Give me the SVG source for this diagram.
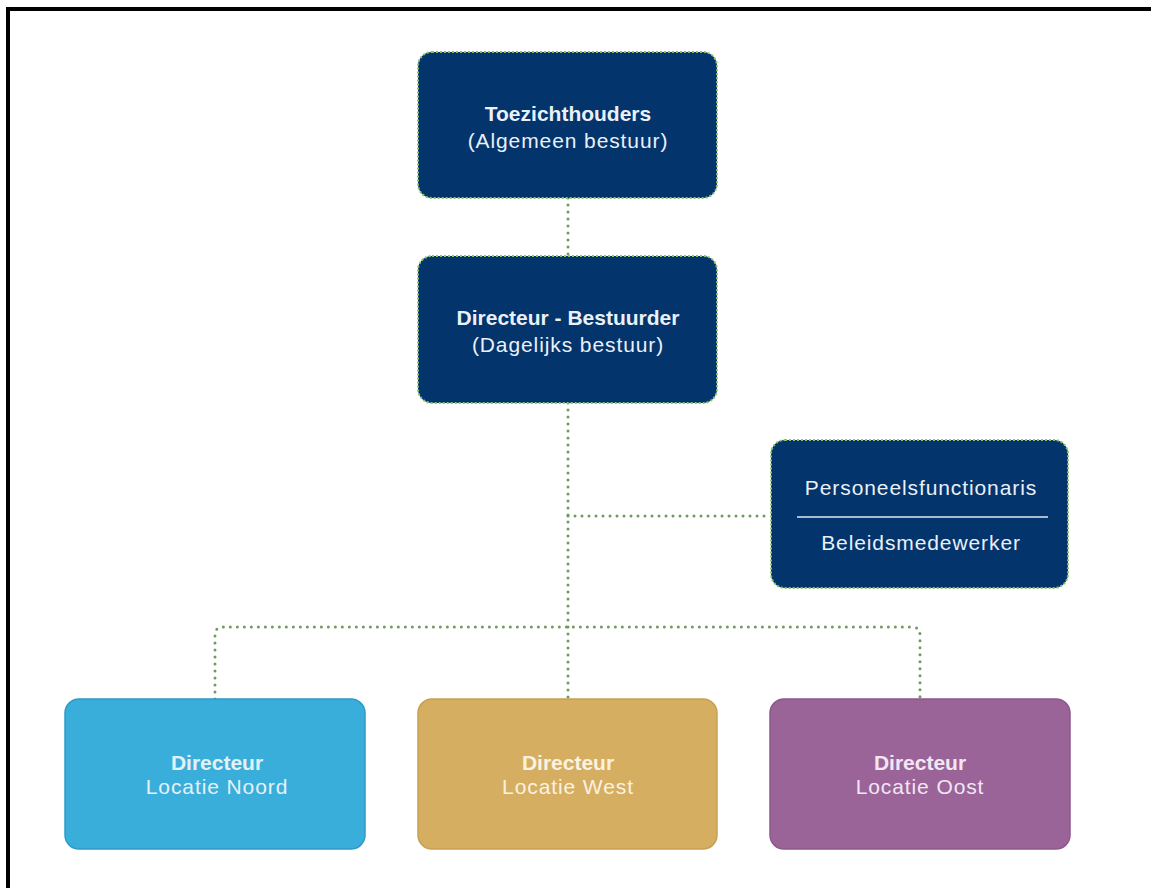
<svg xmlns="http://www.w3.org/2000/svg" width="1151" height="888" viewBox="0 0 1151 888">
<style>
.navy{fill:#03346b;stroke:#8cc26a;stroke-width:2;stroke-dasharray:2 2}
.conn{fill:none;stroke:#6f9c5e;stroke-width:3;stroke-linecap:round;stroke-dasharray:0 7}
.t{font-family:"Liberation Sans",Arial,sans-serif;font-size:21px;text-anchor:middle}
.b{font-weight:bold}
.r{letter-spacing:0.9px}
.lt{fill:#eaf0f8}
</style>
<rect width="1151" height="888" fill="#ffffff"/>
<path d="M8,888 V9 H1151" fill="none" stroke="#000" stroke-width="4"/>
<g id="connectors">
<path class="conn" d="M568,198 V256"/>
<path class="conn" d="M568,403 V699"/>
<path class="conn" d="M568,516 H771"/>
<path class="conn" d="M215,699 V635 Q215,627 223,627 H912 Q920,627 920,635 V699"/>
</g>
<g id="toezichthouders">
<rect class="navy" x="418" y="52" width="299" height="146" rx="14"/>
<text class="t b lt" x="568" y="121">Toezichthouders</text>
<text class="t r lt" x="568" y="148">(Algemeen bestuur)</text>
</g>
<g id="directeur-bestuurder">
<rect class="navy" x="418" y="256" width="299" height="147" rx="14"/>
<text class="t b lt" x="568" y="325">Directeur - Bestuurder</text>
<text class="t r lt" x="568" y="352">(Dagelijks bestuur)</text>
</g>
<g id="personeel">
<rect class="navy" x="771" y="440" width="297" height="148" rx="14"/>
<text class="t r lt" x="921" y="495">Personeelsfunctionaris</text>
<line x1="797" y1="517" x2="1048" y2="517" stroke="#dfe8f3" stroke-width="1.5"/>
<text class="t r lt" x="921" y="550">Beleidsmedewerker</text>
</g>
<g id="noord">
<rect x="65" y="699" width="300" height="150" rx="14" fill="#3aaedb" stroke="#2d9cc8" stroke-width="1.5"/>
<text class="t b" x="217" y="770" fill="#e4f2f8">Directeur</text>
<text class="t r" x="217" y="794" fill="#e4f2f8">Locatie Noord</text>
</g>
<g id="west">
<rect x="418" y="699" width="299" height="150" rx="14" fill="#d5ae61" stroke="#c9a052" stroke-width="1.5"/>
<text class="t b" x="568" y="770" fill="#fbf2e0">Directeur</text>
<text class="t r" x="568" y="794" fill="#fbf2e0">Locatie West</text>
</g>
<g id="oost">
<rect x="770" y="699" width="300" height="150" rx="14" fill="#9a6499" stroke="#8d588c" stroke-width="1.5"/>
<text class="t b" x="920" y="770" fill="#f3e6f3">Directeur</text>
<text class="t r" x="920" y="794" fill="#f3e6f3">Locatie Oost</text>
</g>
</svg>
